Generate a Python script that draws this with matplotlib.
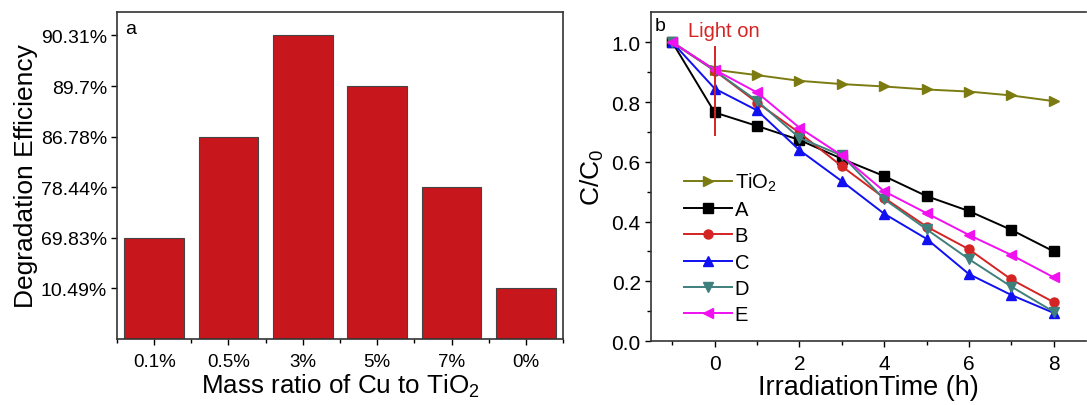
import matplotlib
matplotlib.use("Agg")
import matplotlib.pyplot as plt
import numpy as np

plt.rcParams["font.family"] = ["Liberation Sans", "DejaVu Sans"]
plt.rcParams["mathtext.fontset"] = "custom"
plt.rcParams["mathtext.rm"] = "Liberation Sans"

# Panel a: degradation efficiency per Cu loading
categories = ["0.1%", "0.5%", "3%", "5%", "7%", "0%"]
efficiency = [69.83, 86.78, 90.31, 89.7, 78.44, 10.49]

# Panel b: C/C0 vs irradiation time
hours = [-1, 0, 1, 2, 3, 4, 5, 6, 7, 8]
tio2 = [1.0, 0.908, 0.890, 0.871, 0.860, 0.852, 0.842, 0.835, 0.822, 0.803]
sample_a = [1.0, 0.765, 0.720, 0.673, 0.610, 0.552, 0.485, 0.435, 0.372, 0.300]
sample_b = [1.0, 0.905, 0.798, 0.697, 0.585, 0.479, 0.383, 0.307, 0.206, 0.130]
sample_c = [1.0, 0.845, 0.772, 0.639, 0.535, 0.426, 0.342, 0.224, 0.154, 0.094]
sample_d = [1.0, 0.905, 0.804, 0.680, 0.621, 0.475, 0.374, 0.274, 0.182, 0.098]
sample_e = [1.0, 0.908, 0.832, 0.714, 0.621, 0.501, 0.428, 0.355, 0.288, 0.213]

fig = plt.figure(figsize=(10.87, 4.06), dpi=100)

# ---- panel a ----
ax1 = fig.add_axes([0.1076, 0.1626, 0.4104, 0.8061])
# the original axis is ordinal: each tick is one of the measured values
sorted_eff = sorted(efficiency)
ranks = [sorted_eff.index(v) + 1 for v in efficiency]
x = np.arange(len(categories))
ax1.bar(x, ranks, width=0.8, color="#c8161d", edgecolor="#444444", linewidth=0.8)
ax1.set_xlim(-0.5, len(categories) - 0.5)
ax1.set_ylim(0, 6.47)
ax1.set_yticks(range(1, len(sorted_eff) + 1))
ax1.set_yticklabels(["{:g}%".format(v) for v in sorted_eff], fontsize=14)
ax1.set_xticks(x)
ax1.set_xticklabels(categories, fontsize=13.5)
ax1.set_xticks(np.arange(-0.5, len(categories), 1.0), minor=True)
ax1.tick_params(axis="both", which="major", direction="out", length=4, width=1)
ax1.tick_params(axis="x", which="minor", direction="out", length=3, width=1)
ax1.tick_params(axis="x", pad=6)
ax1.tick_params(axis="y", pad=3)
ax1.set_xlabel("Mass ratio of Cu to TiO$_2$", fontsize=18.7, labelpad=1)
ax1.set_ylabel("Degradation Efficiency", fontsize=19, labelpad=2)
ax1.text(0.018, 0.975, "a", transform=ax1.transAxes, fontsize=14, va="top")
for s in ax1.spines.values():
    s.set_linewidth(1.2)
    s.set_color("#333333")

# ---- panel b ----
ax2 = fig.add_axes([0.599, 0.1576, 0.40, 0.8094])
series = [
    ("TiO$_2$", tio2, "#7b7b12", ">"),
    ("A", sample_a, "black", "s"),
    ("B", sample_b, "#d42424", "o"),
    ("C", sample_c, "#1010f0", "^"),
    ("D", sample_d, "#3f7f7c", "v"),
    ("E", sample_e, "#f010f0", "<"),
]
for label, vals, color, marker in series:
    ax2.plot(hours, vals, color=color, marker=marker, markersize=6.5,
             linewidth=1.4, label=label)

ax2.plot([0, 0], [0.688, 0.984], color="#d42424", linewidth=1.4)
ax2.text(-0.62, 1.04, "Light on", color="#d42424", fontsize=14.5, va="center")
ax2.text(-1.42, 1.055, "b", fontsize=14, va="center")

ax2.set_xlim(-1.5, 8.76)
ax2.set_ylim(0, 1.1)
ax2.set_xticks([0, 2, 4, 6, 8])
ax2.set_xticks(np.arange(-1, 9, 1), minor=True)
ax2.set_yticks([0.0, 0.2, 0.4, 0.6, 0.8, 1.0])
ax2.set_yticks(np.arange(0.1, 1.1, 0.2), minor=True)
ax2.tick_params(axis="both", which="major", direction="out", length=4, width=1,
                labelsize=15)
ax2.tick_params(axis="both", which="minor", direction="out", length=3, width=1)
ax2.tick_params(axis="x", pad=5)
ax2.set_xlabel("IrradiationTime (h)", fontsize=19.5, labelpad=1)
ax2.set_ylabel("C/C$_0$", fontsize=19, labelpad=4)
ax2.spines["right"].set_visible(False)
for s in ax2.spines.values():
    s.set_linewidth(1.2)
    s.set_color("#333333")

ax2.legend(loc="upper left", bbox_to_anchor=(0.056, 0.543), frameon=False,
           fontsize=14.5, handlelength=2.4, handletextpad=0.15, labelspacing=0.36,
           borderaxespad=0)

fig.savefig("out.png", dpi=100)
